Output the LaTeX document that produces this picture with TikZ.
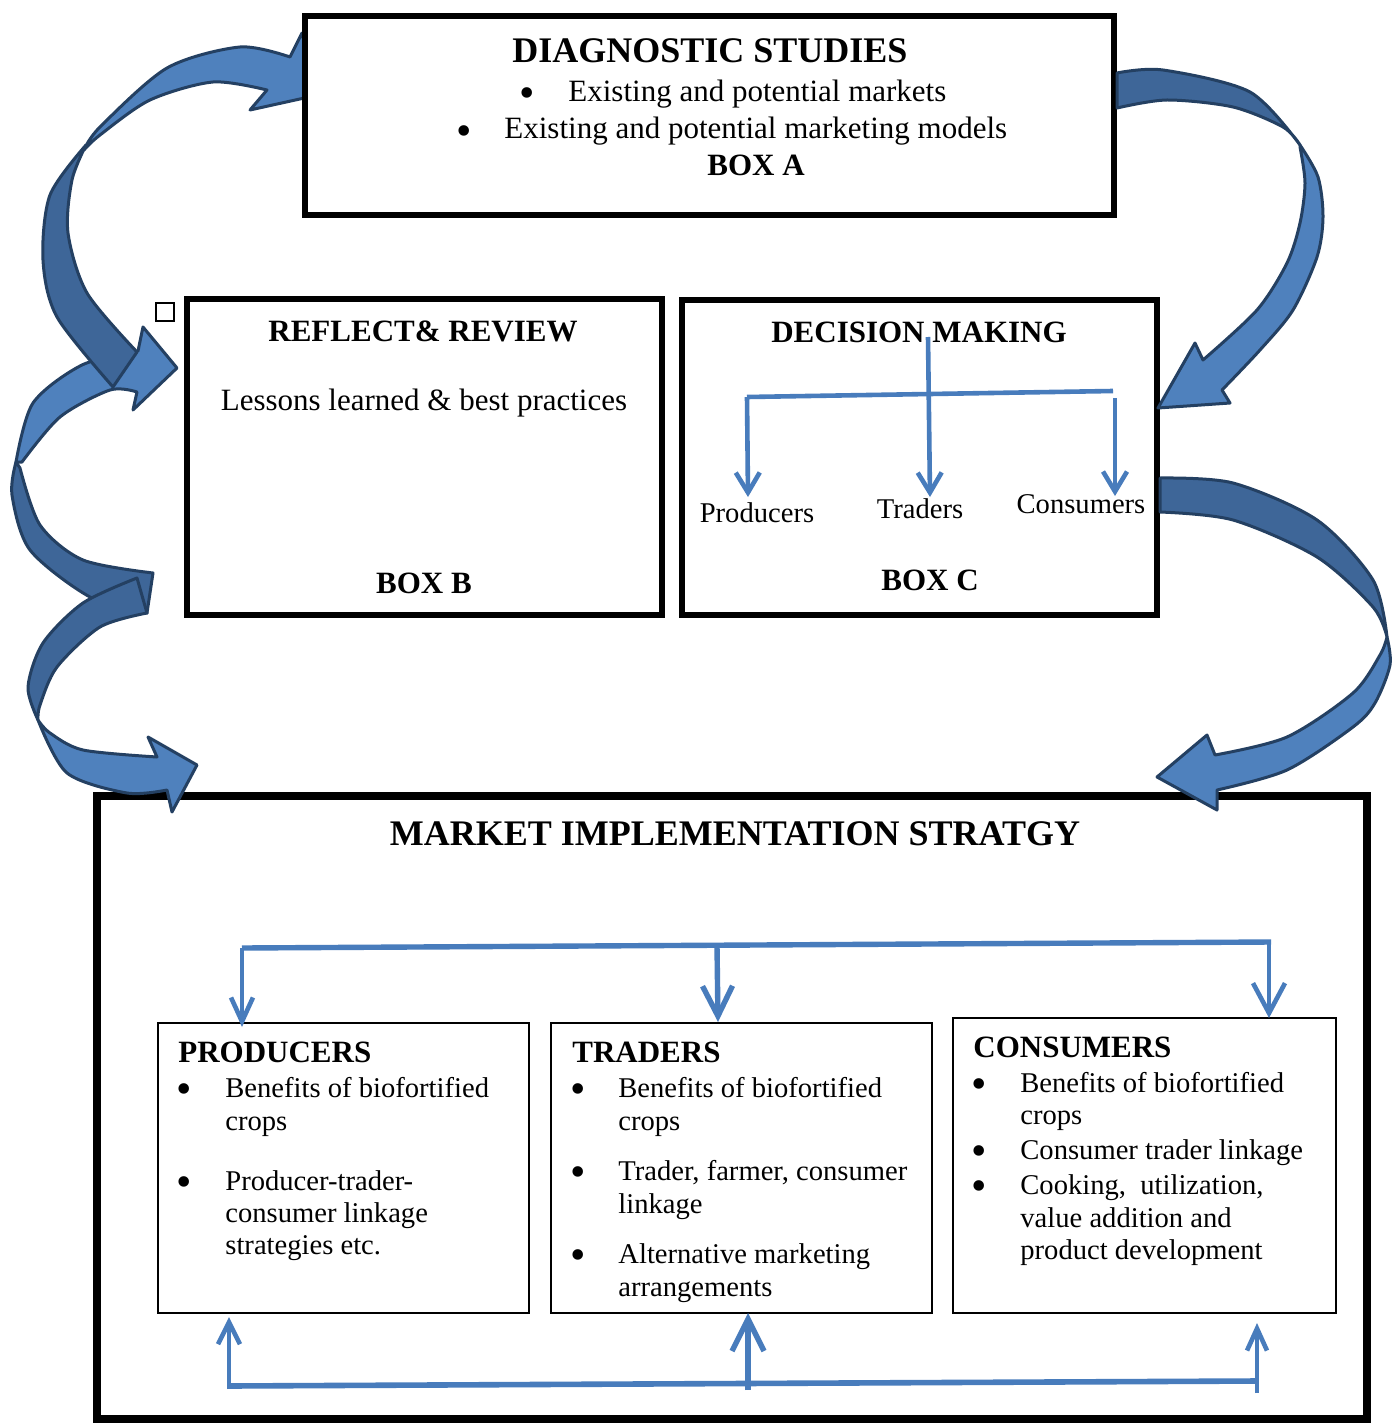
\documentclass[tikz,border=0pt]{standalone}
\usepackage{fontspec}
\setmainfont{Liberation Serif}
\usetikzlibrary{arrows.meta}
\definecolor{bfill}{RGB}{79,129,189}
\definecolor{bdark}{RGB}{62,102,152}
\definecolor{bline}{RGB}{36,64,98}
\definecolor{connblue}{RGB}{72,124,188}
\newcommand{\FTitle}{\fontsize{18}{21}\selectfont\bfseries}
\newcommand{\FHead}{\fontsize{15.5}{18}\selectfont\bfseries}
\newcommand{\FBody}{\fontsize{15.5}{18}\selectfont}
\newcommand{\FSmall}{\fontsize{14.3}{17}\selectfont}
\newcommand{\FBul}{\fontsize{22}{22}\selectfont}
\newcommand{\BulMark}{\smash{•}}
\tikzset{
  bigbox/.style={draw=black, line width=3pt, anchor=north west, inner sep=0pt, outer sep=0pt},
  mainbox/.style={draw=black, line width=4pt, anchor=north west, inner sep=0pt, outer sep=0pt},
  innerbox/.style={draw=black, line width=0.8pt, anchor=north west, inner sep=0pt, outer sep=0pt},
  ribbon/.style={draw=bline, line width=1.5pt, line join=round, fill=bfill},
  ribbonback/.style={draw=bline, line width=1.5pt, line join=round, fill=bdark},
  connline/.style={draw=connblue, line width=2.3pt},
  vhead/.style={-{Straight Barb[length=10pt,width=12pt]}},
  lbl/.style={inner sep=0pt, anchor=base},
  lblw/.style={inner sep=0pt, anchor=base west},
  bul/.style={inner sep=0pt, anchor=base, font=\FBul},
}
\begin{document}
\begin{tikzpicture}[x=0.5pt,y=-0.5pt]
\useasboundingbox (0,0) rectangle (1392,1423);
\fill[white] (0,0) rectangle (1392,1423);

% boxes
\node[mainbox, minimum width=635pt, minimum height=311.5pt] (boxM) at (97,796) {};
\node[bigbox, minimum width=237.5pt, minimum height=158pt] (boxB) at (187,299) {};
\node[bigbox, minimum width=237.5pt, minimum height=157.5pt] (boxC) at (682,300) {};
\node[innerbox, minimum width=185.5pt, minimum height=145pt] (boxP) at (158,1023) {};
\node[innerbox, minimum width=190.5pt, minimum height=145pt] (boxT) at (551,1023) {};
\node[innerbox, minimum width=191.5pt, minimum height=147.5pt] (boxK) at (953,1018) {};
\node[draw=black, line width=0.6pt, minimum size=9pt, inner sep=0pt] (sq) at (165,312) {};

% arrow 2 (left, up into box B)
\filldraw[ribbonback] plot[smooth] coordinates {(16,462) (12,495) (30,550) (90,597) (147,613)} -- (153,573)
  -- plot[smooth] coordinates {(153,573) (83,560) (40,525) (20,468)} -- cycle;
\filldraw[ribbon] plot[smooth] coordinates {(16,462) (33,403) (82,365) (138,351)} -- (143,327) -- (177,368) -- (133,410) -- (137,392)
  -- plot[smooth] coordinates {(137,392) (110,390) (60,417) (22,462)} -- cycle;
% arrow 3 (left, down into market box)
\filldraw[ribbonback] plot[smooth] coordinates {(137,578) (83,603) (43,643) (28,687) (38,720)}
  -- plot[smooth] coordinates {(38,720) (40,705) (57,667) (100,627) (147,613)} -- cycle;
\filldraw[ribbon] plot[smooth] coordinates {(38,720) (67,773) (127,793) (167,790)} -- (172,812) -- (197,765) -- (148,737) -- (157,757)
  -- plot[smooth] coordinates {(157,757) (83,750) (50,733) (38,720)} -- cycle;
% arrow 1 (left top, into box A)
\filldraw[ribbonback] plot[smooth] coordinates {(86,145) (50,195) (43,260) (57,317) (113,387)} -- (137,352)
  -- plot[smooth] coordinates {(137,352) (87,293) (68,233) (72,180) (86,145)} -- cycle;
\filldraw[ribbon] plot[smooth] coordinates {(84,150) (100,127) (167,68) (240,47) (290,57)} -- (302,33) -- (318,95) -- (250,110) -- (267,90)
  -- plot[smooth] coordinates {(267,90) (213,82) (150,100) (100,135) (84,150)} -- cycle;

% box A on top
\node[bigbox, fill=white, minimum width=404.5pt, minimum height=99.5pt] (boxA) at (305,16) {};

% arrow 4 (right top, box A -> box C)
\filldraw[ribbonback] plot[smooth] coordinates {(1117,73) (1163,70) (1250,92) (1300,145)}
  -- plot[smooth] coordinates {(1300,145) (1283,127) (1233,107) (1167,100) (1117,108)} -- cycle;
\filldraw[ribbon] plot[smooth] coordinates {(1300,145) (1318,177) (1323,217) (1317,257) (1293,310) (1260,350) (1222,390)} -- (1230,403) -- (1158,408) -- (1195,343) -- (1203,360)
  -- plot[smooth] coordinates {(1203,360) (1257,310) (1287,263) (1300,223) (1305,183) (1300,147)} -- cycle;
% arrow 5 (right, box C -> market box)
\filldraw[ribbonback] plot[smooth] coordinates {(1160,478) (1233,483) (1317,520) (1373,580) (1387,637)}
  -- plot[smooth] coordinates {(1387,637) (1373,607) (1317,557) (1233,520) (1160,512)} -- cycle;
\filldraw[ribbon] plot[smooth] coordinates {(1387,637) (1390,665) (1375,703) (1353,727) (1287,770) (1217,790)} -- (1217,810) -- (1157,777) -- (1207,735) -- (1215,755)
  -- plot[smooth] coordinates {(1215,755) (1287,737) (1353,693) (1380,655) (1387,637)} -- cycle;

% texts box A
\node[lbl, font=\FTitle] (tA) at (710,63) {DIAGNOSTIC STUDIES};
\node[bul] (bA1) at (527,108) {\BulMark};
\node[lblw, font=\FBody] (tA1) at (568,102) {Existing and potential markets};
\node[bul] (bA2) at (464,146) {\BulMark};
\node[lblw, font=\FBody] (tA2) at (504,139) {Existing and potential marketing models};
\node[lbl, font=\FHead] (tA3) at (756,176) {BOX A};

% texts box B
\node[lbl, font=\FHead] (tB) at (423,341) {REFLECT\& REVIEW};
\node[lbl, font=\FBody] (tB1) at (424,410) {Lessons learned \& best practices};
\node[lbl, font=\FHead] (tB2) at (424,593) {BOX B};

% texts box C
\node[lbl, font=\FHead] (tC) at (919,342) {DECISION MAKING};
\node[lbl, font=\FSmall] (cP) at (757,522) {Producers};
\node[lbl, font=\FSmall] (cT) at (920,518) {Traders};
\node[lbl, font=\FSmall] (cK) at (1081,513) {Consumers};
\node[lbl, font=\FHead] (tC2) at (930,590) {BOX C};

% box C tree
\coordinate (dmTop) at (928,337);
\coordinate (dmL) at (747,397);
\coordinate (dmR) at (1113,391);
\coordinate (dmR2) at (1115,398);
\coordinate (aP) at (748,497);
\coordinate (aT) at (930,497);
\coordinate (aK) at (1115,496);
\draw[connline] (dmL) -- (dmR);
\draw[connline, vhead] (dmL) -- (aP);
\draw[connline, vhead] (dmTop) -- (aT);
\draw[connline, vhead] (dmR2) -- (aK);

% market title
\node[lbl, font=\FTitle] (tM) at (735,845) {MARKET IMPLEMENTATION STRATGY};

% producers box texts
\node[lblw, font=\FHead] (hP) at (178,1062) {PRODUCERS};
\node[bul] (bP1) at (184,1103) {\BulMark};
\node[lblw, font=\FSmall] (p1) at (225,1097) {Benefits of biofortified};
\node[lblw, font=\FSmall] (p2) at (225,1130) {crops};
\node[bul] (bP2) at (184,1196) {\BulMark};
\node[lblw, font=\FSmall] (p3) at (225,1190) {Producer-trader-};
\node[lblw, font=\FSmall] (p4) at (225,1222) {consumer linkage};
\node[lblw, font=\FSmall] (p5) at (225,1254) {strategies etc.};

% traders box texts
\node[lblw, font=\FHead] (hT) at (572,1062) {TRADERS};
\node[bul] (bT1) at (578,1103) {\BulMark};
\node[lblw, font=\FSmall] (t1) at (618,1097) {Benefits of biofortified};
\node[lblw, font=\FSmall] (t2) at (618,1130) {crops};
\node[bul] (bT2) at (578,1186) {\BulMark};
\node[lblw, font=\FSmall] (t3) at (618,1180) {Trader, farmer, consumer};
\node[lblw, font=\FSmall] (t4) at (618,1213) {linkage};
\node[bul] (bT3) at (578,1269) {\BulMark};
\node[lblw, font=\FSmall] (t5) at (618,1263) {Alternative marketing};
\node[lblw, font=\FSmall] (t6) at (618,1296) {arrangements};

% consumers box texts
\node[lblw, font=\FHead] (hK) at (973,1057) {CONSUMERS};
\node[bul] (bK1) at (979,1098) {\BulMark};
\node[lblw, font=\FSmall] (k1) at (1020,1092) {Benefits of biofortified};
\node[lblw, font=\FSmall] (k2) at (1020,1124) {crops};
\node[bul] (bK2) at (979,1165) {\BulMark};
\node[lblw, font=\FSmall] (k3) at (1020,1159) {Consumer trader linkage};
\node[bul] (bK3) at (979,1200) {\BulMark};
\node[lblw, font=\FSmall] (k4) at (1020,1194) {Cooking,\ \ utilization,};
\node[lblw, font=\FSmall] (k5) at (1020,1227) {value addition and};
\node[lblw, font=\FSmall] (k6) at (1020,1259) {product development};

% market top tree
\coordinate (mtL) at (242,948);
\coordinate (mtM) at (717,946);
\coordinate (mtR) at (1269,942);
\coordinate (mtRe) at (1271,942);
\coordinate (mhL) at (242,1027);
\coordinate (mhM) at (718,1022);
\coordinate (mhR) at (1269,1018);
\draw[connline, line width=2.7pt] (mtL) -- (mtRe);
\draw[connline, -{Straight Barb[length=12pt,width=11pt]}] (mtL) -- (mhL);
\draw[connline, line width=2.7pt, -{Straight Barb[length=15pt,width=15pt]}] (mtM) -- (mhM);
\draw[connline, -{Straight Barb[length=15pt,width=16pt]}] (mtR) -- (mhR);

% market bottom tree
\coordinate (mbL) at (228,1386);
\coordinate (mbR) at (1257,1381);
\coordinate (mbL2) at (229,1389);
\coordinate (mbM2) at (748,1390);
\coordinate (mbR2) at (1257,1393);
\coordinate (muL) at (229,1317);
\coordinate (muM) at (748,1313);
\coordinate (muR) at (1257,1323);
\draw[connline, line width=2.8pt] (mbL) -- (mbR);
\draw[connline, -{Straight Barb[length=11pt,width=11pt]}] (mbL2) -- (muL);
\draw[connline, line width=2.7pt, -{Straight Barb[length=16pt,width=16pt]}] (mbM2) -- (muM);
\draw[connline, -{Straight Barb[length=11pt,width=10pt]}] (mbR2) -- (muR);
\end{tikzpicture}
\end{document}
